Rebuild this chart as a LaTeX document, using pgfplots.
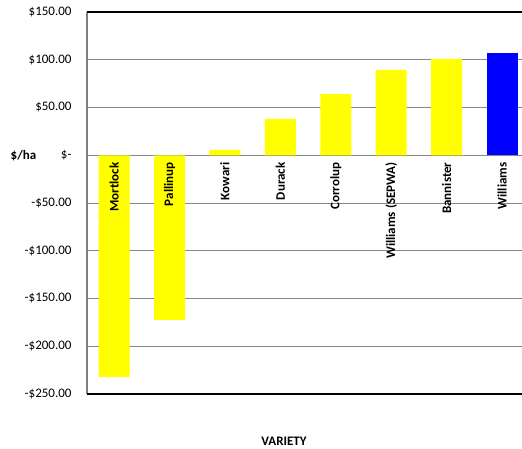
\documentclass[border=0pt]{standalone}
\usepackage{pgfplots}
\pgfplotsset{compat=1.18}
\usepackage{fontspec}
\setmainfont{Carlito}
\definecolor{baryellow}{HTML}{FFFF00}
\definecolor{barblue}{HTML}{0000FF}
\definecolor{gridgray}{HTML}{868686}
\definecolor{axisgray}{HTML}{7F7F7F}
\newcommand{\lblfont}{\fontsize{13bp}{15bp}\selectfont}

\begin{document}
\begin{tikzpicture}
\begin{axis}[
  scale only axis,
  width=435bp, height=382bp,
  xmin=-0.49, xmax=7.36,
  ymin=-250, ymax=150,
  axis x line=middle,
  axis y line=left,
  axis line style={-},
  x axis line style={draw=gridgray, line width=0.6pt},
  y axis line style={draw=axisgray, line width=1.6pt},
  hide obscured x ticks=false,
  hide obscured y ticks=false,
  major tick length=0pt,
  xtick=\empty,
  ytick={-250,-200,...,150},
  yticklabels={-\$250.00, -\$200.00, -\$150.00, -\$100.00, -\$50.00, \$-\hspace{5bp}, \$50.00, \$100.00, \$150.00},
  yticklabel style={font=\lblfont, xshift=-12bp},
  ymajorgrids,
  grid style={gridgray, line width=0.6pt},
  ybar, bar width=31bp,
  clip=false,
]
% yellow varieties
\addplot[ybar, bar shift=0pt, fill=baryellow, draw=none] coordinates {
  (0,-232) (1,-172.5) (2,5.5) (3,38) (4,64) (5,89.5) (6,101)
};
% Williams highlighted
\addplot[ybar, bar shift=0pt, fill=barblue, draw=none] coordinates {
  (7,107)
};
% category names, written just under the zero line, over the bars
\addplot[ybar, bar shift=0pt, draw=none, fill=none,
  point meta=explicit symbolic,
  nodes near coords,
  nodes near coords style={rotate=90, anchor=east, font=\lblfont\bfseries,
    inner xsep=7bp, inner ysep=0pt, text=black},
] coordinates {
  (0,0) [Mortlock] (1,0) [Pallinup] (2,0) [Kowari] (3,0) [Durack]
  (4,0) [Corrolup] (5,0) [Williams (SEPWA)] (6,0) [Bannister] (7,0) [Williams]
};
\draw[black, line width=1.8pt] (rel axis cs:0,1) -- (rel axis cs:1,1);
\draw[black, line width=1.8pt] (rel axis cs:0,0) -- (rel axis cs:1,0);
\node[font=\lblfont\bfseries, xshift=197bp, yshift=-47bp] at (rel axis cs:0,0) {VARIETY};
\node[font=\lblfont\bfseries, xshift=-63.5bp] at (rel axis cs:0,0.625) {\$/ha};
\end{axis}
\pgfresetboundingbox
\useasboundingbox (-87bp,-55bp) rectangle (435bp,394bp);
\end{tikzpicture}
\end{document}
